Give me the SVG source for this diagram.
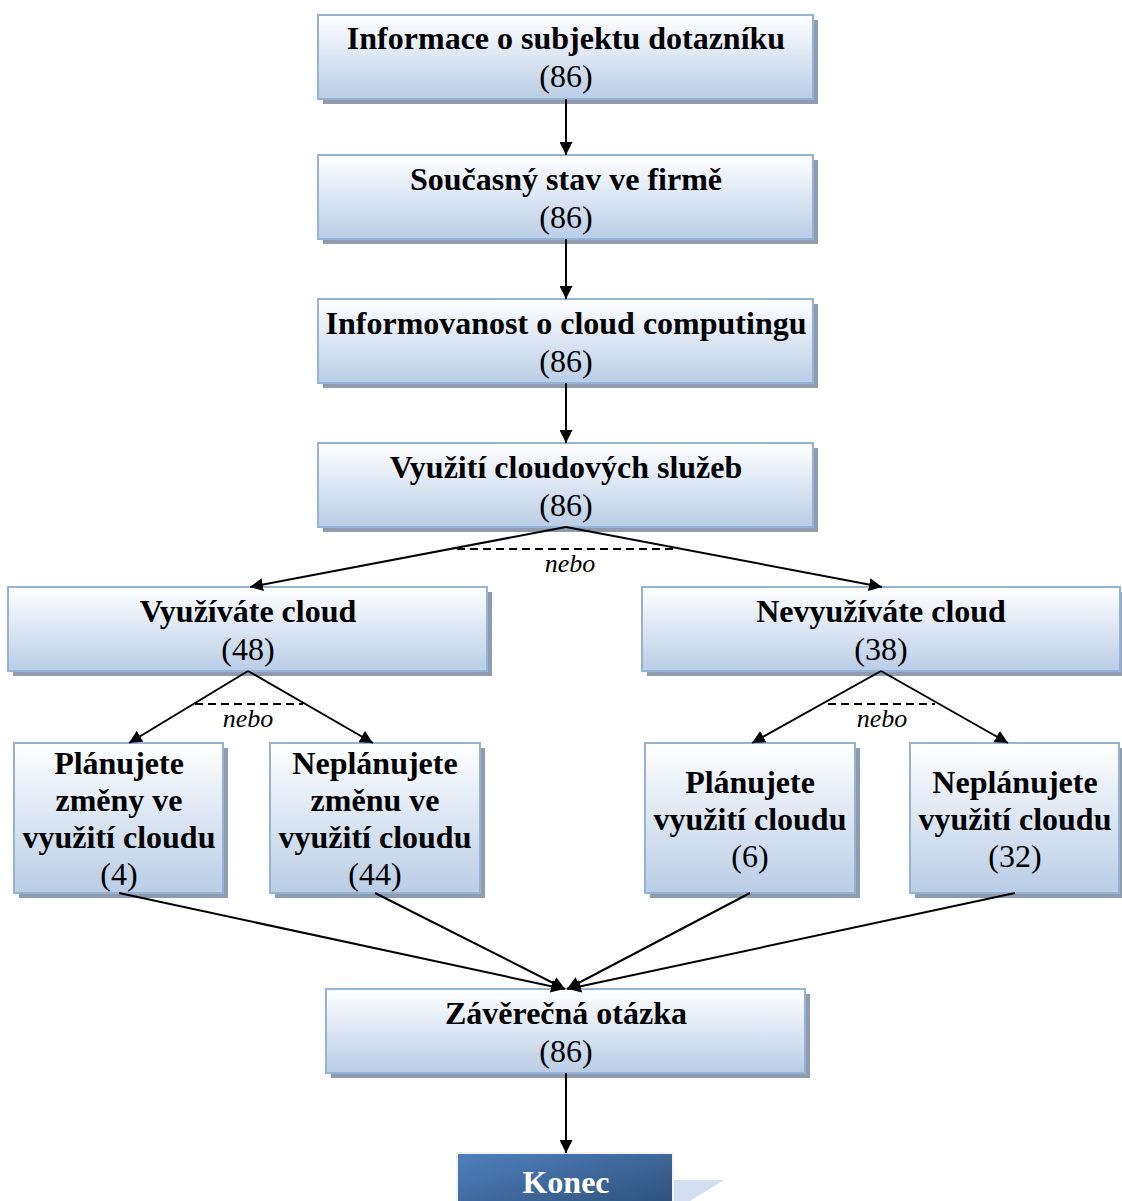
<svg xmlns="http://www.w3.org/2000/svg" width="1122" height="1201" viewBox="0 0 1122 1201">
  <defs>
    <linearGradient id="boxFill" x1="0" y1="0" x2="0" y2="1">
      <stop offset="0" stop-color="#ffffff"/>
      <stop offset="1" stop-color="#b9cde6"/>
    </linearGradient>
    <linearGradient id="endFill" x1="0" y1="0" x2="1" y2="1">
      <stop offset="0" stop-color="#4f81bd"/>
      <stop offset="1" stop-color="#2c4d75"/>
    </linearGradient>
    <marker id="arrow" viewBox="0 0 13 13" refX="13" refY="6.5" markerWidth="13" markerHeight="13" markerUnits="userSpaceOnUse" orient="auto">
      <path d="M0,0 L13,6.5 L0,13 z" fill="#000"/>
    </marker>
  </defs>
  <style>
    .shadow { fill: #8e9cae; }
    .box { fill: url(#boxFill); stroke: #95b3d7; stroke-width: 2; }
    .title { font-family: "Liberation Serif", "Times New Roman", serif; font-weight: bold; font-size: 32px; fill: #000; text-anchor: middle; }
    .num { font-family: "Liberation Serif", "Times New Roman", serif; font-size: 32px; fill: #000; text-anchor: middle; }
    .or { font-family: "Liberation Serif", "Times New Roman", serif; font-style: italic; font-size: 26px; fill: #000; text-anchor: middle; }
    .conn { stroke: #000; stroke-width: 2; fill: none; }
    .dash { stroke: #000; stroke-width: 2; stroke-dasharray: 8 5; fill: none; }
  </style>
  <rect width="1122" height="1201" fill="#fff"/>

  <g id="n1">
    <rect class="shadow" x="323" y="20" width="495" height="84"/>
    <rect class="box" x="318" y="15" width="495" height="84"/>
    <text class="title" x="566" y="49">Informace o subjektu dotazníku</text>
    <text class="num" x="566" y="87">(86)</text>
  </g>
  <g id="n2">
    <rect class="shadow" x="323" y="160" width="495" height="84"/>
    <rect class="box" x="318" y="155" width="495" height="84"/>
    <text class="title" x="566" y="190">Současný stav ve firmě</text>
    <text class="num" x="566" y="228">(86)</text>
  </g>
  <g id="n3">
    <rect class="shadow" x="323" y="304" width="495" height="84"/>
    <rect class="box" x="318" y="299" width="495" height="84"/>
    <text class="title" x="566" y="334">Informovanost o cloud computingu</text>
    <text class="num" x="566" y="372">(86)</text>
  </g>
  <g id="n4">
    <rect class="shadow" x="323" y="448" width="495" height="84"/>
    <rect class="box" x="318" y="443" width="495" height="84"/>
    <text class="title" x="566" y="478">Využití cloudových služeb</text>
    <text class="num" x="566" y="516">(86)</text>
  </g>
  <g id="n5">
    <rect class="shadow" x="13" y="592" width="479" height="84"/>
    <rect class="box" x="8" y="587" width="479" height="84"/>
    <text class="title" x="248" y="622">Využíváte cloud</text>
    <text class="num" x="248" y="660">(48)</text>
  </g>
  <g id="n6">
    <rect class="shadow" x="647" y="592" width="478" height="84"/>
    <rect class="box" x="642" y="587" width="478" height="84"/>
    <text class="title" x="881" y="622">Nevyužíváte cloud</text>
    <text class="num" x="881" y="660">(38)</text>
  </g>
  <g id="n7">
    <rect class="shadow" x="19" y="748" width="209" height="150"/>
    <rect class="box" x="14" y="743" width="209" height="150"/>
    <text class="title" x="119" y="774">Plánujete</text>
    <text class="title" x="119" y="811">změny ve</text>
    <text class="title" x="119" y="848">využití cloudu</text>
    <text class="num" x="119" y="885">(4)</text>
  </g>
  <g id="n8">
    <rect class="shadow" x="275" y="748" width="210" height="150"/>
    <rect class="box" x="270" y="743" width="210" height="150"/>
    <text class="title" x="375" y="774">Neplánujete</text>
    <text class="title" x="375" y="811">změnu ve</text>
    <text class="title" x="375" y="848">využití cloudu</text>
    <text class="num" x="375" y="885">(44)</text>
  </g>
  <g id="n9">
    <rect class="shadow" x="650" y="748" width="210" height="150"/>
    <rect class="box" x="645" y="743" width="210" height="150"/>
    <text class="title" x="750" y="793">Plánujete</text>
    <text class="title" x="750" y="830">využití cloudu</text>
    <text class="num" x="750" y="867">(6)</text>
  </g>
  <g id="n10">
    <rect class="shadow" x="915" y="748" width="209" height="150"/>
    <rect class="box" x="910" y="743" width="209" height="150"/>
    <text class="title" x="1015" y="793">Neplánujete</text>
    <text class="title" x="1015" y="830">využití cloudu</text>
    <text class="num" x="1015" y="867">(32)</text>
  </g>
  <g id="n11">
    <rect class="shadow" x="331" y="994" width="479" height="84"/>
    <rect class="box" x="326" y="989" width="479" height="84"/>
    <text class="title" x="566" y="1024">Závěrečná otázka</text>
    <text class="num" x="566" y="1062">(86)</text>
  </g>
  <g id="n12">
    <polygon points="673,1180 724,1180 690,1201 673,1201" fill="#d3dff0"/>
    <rect x="457" y="1153" width="216" height="60" fill="url(#endFill)" stroke="#f2f2f2" stroke-width="2"/>
    <text class="title" x="566" y="1193" style="fill:#fff">Konec</text>
  </g>

  <g id="connectors">
    <line class="conn" x1="566" y1="99" x2="566" y2="155" marker-end="url(#arrow)"/>
    <line class="conn" x1="566" y1="239" x2="566" y2="299" marker-end="url(#arrow)"/>
    <line class="conn" x1="566" y1="383" x2="566" y2="443" marker-end="url(#arrow)"/>
    <line class="conn" x1="566" y1="527" x2="250" y2="587" marker-end="url(#arrow)"/>
    <line class="conn" x1="566" y1="527" x2="882" y2="587" marker-end="url(#arrow)"/>
    <line class="dash" x1="457" y1="549" x2="676" y2="549"/>
    <line class="conn" x1="248" y1="671" x2="129" y2="743" marker-end="url(#arrow)"/>
    <line class="conn" x1="248" y1="671" x2="373" y2="743" marker-end="url(#arrow)"/>
    <line class="dash" x1="195" y1="704" x2="303" y2="704"/>
    <line class="conn" x1="881" y1="671" x2="752" y2="743" marker-end="url(#arrow)"/>
    <line class="conn" x1="881" y1="671" x2="1008" y2="743" marker-end="url(#arrow)"/>
    <line class="dash" x1="828" y1="704" x2="935" y2="704"/>
    <line class="conn" x1="119" y1="893" x2="564" y2="989" marker-end="url(#arrow)"/>
    <line class="conn" x1="375" y1="893" x2="565" y2="989" marker-end="url(#arrow)"/>
    <line class="conn" x1="750" y1="893" x2="567" y2="989" marker-end="url(#arrow)"/>
    <line class="conn" x1="1015" y1="893" x2="568" y2="989" marker-end="url(#arrow)"/>
    <line class="conn" x1="566" y1="1073" x2="566" y2="1153" marker-end="url(#arrow)"/>
    <text class="or" x="570" y="572">nebo</text>
    <text class="or" x="248" y="727">nebo</text>
    <text class="or" x="882" y="727">nebo</text>
  </g>
</svg>
